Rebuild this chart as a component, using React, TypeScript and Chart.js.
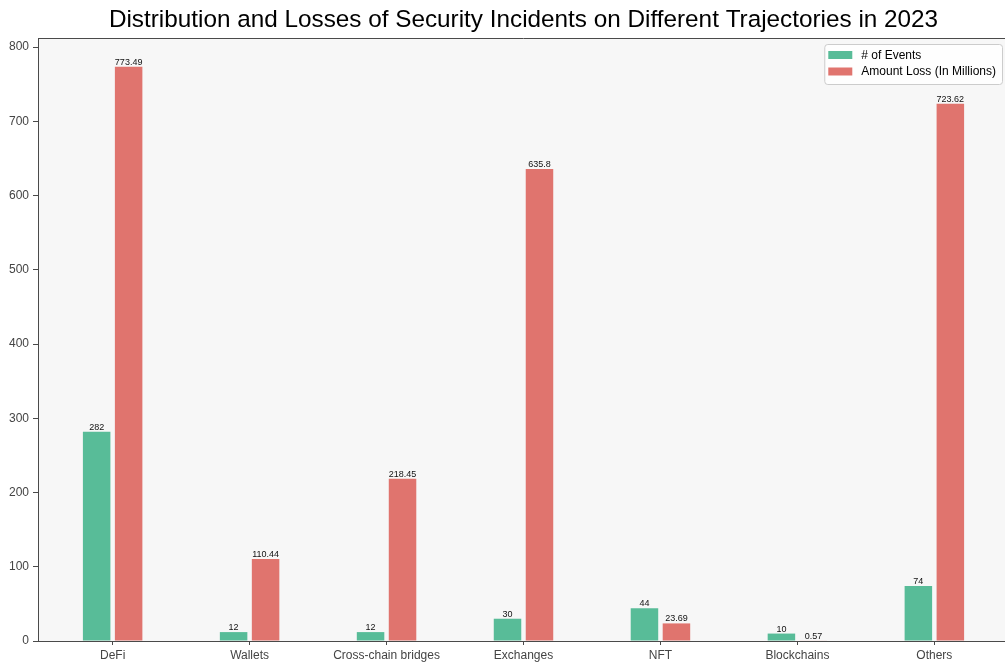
import React, { useEffect, useRef } from "react";
import { Chart, registerables } from "chart.js";

Chart.register(...registerables);

const TITLE = "Distribution and Losses of Security Incidents on Different Trajectories in 2023";
const categories = ["DeFi", "Wallets", "Cross-chain bridges", "Exchanges", "NFT", "Blockchains", "Others"];
const eventCounts = [282, 12, 12, 30, 44, 10, 74];
const lossMillions = [773.49, 110.44, 218.45, 635.8, 23.69, 0.57, 723.62];
const yTicks = [0, 100, 200, 300, 400, 500, 600, 700, 800];
const seriesNames = ["# of Events", "Amount Loss (In Millions)"];
const seriesColors = ["#58bc98", "#e0746e"];

const FONT = "'Liberation Sans', Arial, sans-serif";
const SPINE = "#4a4a4a";

// plot background, top spine, value labels, title and boxed legend
const decorations = {
  id: "decorations",
  beforeDraw(chart: any) {
    const { ctx, chartArea } = chart;
    ctx.save();
    ctx.fillStyle = "#ffffff";
    ctx.fillRect(0, 0, chart.width, chart.height);
    ctx.fillStyle = "#f7f7f7";
    ctx.fillRect(chartArea.left, chartArea.top, chartArea.right - chartArea.left, chartArea.bottom - chartArea.top);
    ctx.restore();
  },
  afterDatasetsDraw(chart: any) {
    const { ctx } = chart;
    ctx.save();
    ctx.font = `9px ${FONT}`;
    ctx.fillStyle = "#111111";
    ctx.textAlign = "center";
    ctx.textBaseline = "alphabetic";
    chart.data.datasets.forEach((ds: any, di: number) => {
      const meta = chart.getDatasetMeta(di);
      meta.data.forEach((el: any, i: number) => {
        const v = ds.data[i].y;
        ctx.fillText(String(v), el.x, el.y - 2);
      });
    });
    ctx.restore();
  },
  afterDraw(chart: any) {
    const { ctx, chartArea } = chart;
    ctx.save();
    // top spine
    ctx.strokeStyle = SPINE;
    ctx.lineWidth = 1;
    ctx.beginPath();
    ctx.moveTo(chartArea.left, chartArea.top + 0.5);
    ctx.lineTo(chartArea.right, chartArea.top + 0.5);
    ctx.stroke();

    // title
    ctx.fillStyle = "#000000";
    ctx.font = `24.3px ${FONT}`;
    ctx.textAlign = "center";
    ctx.textBaseline = "alphabetic";
    ctx.fillText(TITLE, (chartArea.left + chartArea.right) / 2, 27);

    // legend
    ctx.font = `12px ${FONT}`;
    const textW = Math.max(...seriesNames.map((s) => ctx.measureText(s).width));
    const boxRight = chartArea.right - 7;
    const boxW = 4 + 24 + 9 + textW + 6;
    const boxLeft = boxRight - boxW;
    const boxTop = chartArea.top + 6;
    const boxH = 40;
    ctx.fillStyle = "rgba(255,255,255,0.85)";
    ctx.strokeStyle = "#cccccc";
    ctx.beginPath();
    ctx.roundRect(boxLeft + 0.5, boxTop + 0.5, boxW, boxH, 3);
    ctx.fill();
    ctx.stroke();
    seriesNames.forEach((name, i) => {
      const cy = boxTop + 11 + i * 16.5;
      ctx.fillStyle = seriesColors[i];
      ctx.fillRect(boxLeft + 4, cy - 4, 24, 8);
      ctx.fillStyle = "#000000";
      ctx.textAlign = "left";
      ctx.textBaseline = "middle";
      ctx.fillText(name, boxLeft + 4 + 24 + 9, cy + 0.5);
    });
    ctx.restore();
  },
};

export default function App() {
  const canvasRef = useRef<HTMLCanvasElement | null>(null);

  useEffect(() => {
    const canvas = canvasRef.current;
    if (!canvas) return;
    const chart = new Chart(canvas, {
      type: "bar",
      data: {
        datasets: [
          {
            label: seriesNames[0],
            data: eventCounts.map((v, i) => ({ x: i, y: v })),
            backgroundColor: seriesColors[0],
            borderWidth: 0,
          },
          {
            label: seriesNames[1],
            data: lossMillions.map((v, i) => ({ x: i, y: v })),
            backgroundColor: seriesColors[1],
            borderWidth: 0,
          },
        ],
      },
      options: {
        responsive: false,
        animation: false,
        devicePixelRatio: 1,
        categoryPercentage: 0.467,
        barPercentage: 0.86,
        layout: { padding: { top: 38, left: 0, right: 11, bottom: 0 } },
        plugins: {
          legend: { display: false },
          title: { display: false },
          tooltip: { enabled: false },
        },
        scales: {
          x: {
            type: "linear",
            min: -0.545,
            max: 6.545,
            offset: false,
            afterFit: (scale: any) => {
              scale.height = 26;
            },
            afterBuildTicks: (scale: any) => {
              scale.ticks = categories.map((_, i) => ({ value: i }));
            },
            ticks: {
              autoSkip: false,
              maxRotation: 0,
              padding: 3,
              color: "#444444",
              font: { family: FONT, size: 12 },
              callback: (value: any) => categories[Number(value)] ?? "",
            },
            grid: {
              offset: false,
              drawOnChartArea: false,
              drawTicks: true,
              tickLength: 4,
              tickColor: SPINE,
            },
            border: { display: true, color: SPINE, width: 1 },
          },
          y: {
            type: "linear",
            min: 0,
            max: 812.16,
            afterFit: (scale: any) => {
              scale.width = 38;
            },
            afterBuildTicks: (scale: any) => {
              scale.ticks = yTicks.map((v) => ({ value: v }));
            },
            ticks: {
              padding: 4,
              color: "#444444",
              font: { family: FONT, size: 12 },
            },
            grid: {
              drawOnChartArea: false,
              drawTicks: true,
              tickLength: 5,
              tickColor: SPINE,
            },
            border: { display: true, color: SPINE, width: 1 },
          },
        },
      },
      plugins: [decorations],
    });
    return () => chart.destroy();
  }, []);

  return (
    <div
      style={{
        position: "fixed",
        left: 0,
        top: 0,
        width: 1005,
        height: 667,
        overflow: "hidden",
        background: "#ffffff",
      }}
    >
      <canvas ref={canvasRef} width={1020} height={667} style={{ display: "block" }} />
    </div>
  );
}
